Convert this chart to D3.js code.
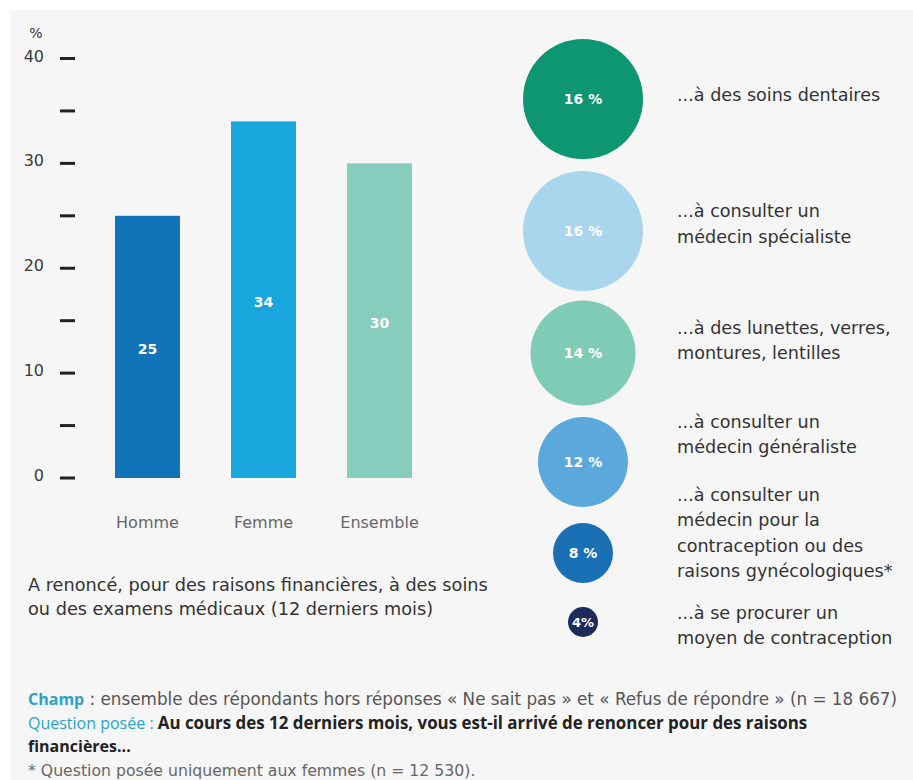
<!DOCTYPE html>
<html><head><meta charset="utf-8">
<script src="https://cdn.jsdelivr.net/npm/d3@7"></script>
<style>
html,body{margin:0;padding:0;background:#fff;}
svg{display:block;}
</style></head>
<body>
<svg id="c" width="913" height="780"></svg>
<script>
// ---- data ----
const categories = ["Homme", "Femme", "Ensemble"];
const values = [25, 34, 30];
const barColors = ["#1173b8", "#19a6dd", "#86cdbd"];
const yTicks = [0, 10, 20, 30, 40];
const yMinorTicks = [5, 15, 25, 35];
const caption = ["A renoncé, pour des raisons financières, à des soins", "ou des examens médicaux (12 derniers mois)"];

const reasons = [
  ["...à des soins dentaires"],
  ["...à consulter un", "médecin spécialiste"],
  ["...à des lunettes, verres,", "montures, lentilles"],
  ["...à consulter un", "médecin généraliste"],
  ["...à consulter un", "médecin pour la", "contraception ou des", "raisons gynécologiques*"],
  ["...à se procurer un", "moyen de contraception"]
];
const reasonValues = [16, 16, 14, 12, 8, 4];
const reasonColors = ["#0e9673", "#a9d5ed", "#80cbb6", "#5ba9dc", "#1a70b5", "#1c2a5c"];

const footChamp = ["Champ", " : ensemble des répondants hors réponses « Ne sait pas » et « Refus de répondre » (n = 18 667)"];
const footQuestion = ["Question posée", " : ", "Au cours des 12 derniers mois, vous est-il arrivé de renoncer pour des raisons"];
const footQuestion2 = "financières...";
const footNote = "* Question posée uniquement aux femmes (n = 12 530).";

// ---- drawing ----
const svg = d3.select("#c");
const font = "'DejaVu Sans', sans-serif";
svg.append("rect").attr("x", 10).attr("y", 10).attr("width", 903).attr("height", 770).attr("fill", "#f6f6f6");

// bar chart
const y = d3.scaleLinear().domain([0, 40]).range([478, 58.5]);
const x = d3.scaleBand().domain(categories).range([57, 470]).paddingInner(0.44).paddingOuter(0.5);

const gAxis = svg.append("g");
gAxis.selectAll("line.t").data(yTicks.concat(yMinorTicks)).join("line")
  .attr("x1", 60).attr("x2", 75).attr("y1", d => y(d)).attr("y2", d => y(d))
  .attr("stroke", "#222").attr("stroke-width", 3);
gAxis.selectAll("text.t").data(yTicks).join("text")
  .attr("x", 44).attr("y", d => y(d) + 3).attr("text-anchor", "end")
  .attr("font-family", font).attr("font-size", 16).attr("fill", "#3a3a3a")
  .text(d => d);
svg.append("text").attr("x", 36).attr("y", 38).attr("text-anchor", "middle")
  .attr("font-family", font).attr("font-size", 14).attr("fill", "#3a3a3a").text("%");

const bars = svg.append("g");
bars.selectAll("rect").data(values).join("rect")
  .attr("x", (d, i) => x(categories[i])).attr("width", x.bandwidth())
  .attr("y", d => y(d)).attr("height", d => y(0) - y(d))
  .attr("fill", (d, i) => barColors[i]);
bars.selectAll("text.v").data(values).join("text")
  .attr("x", (d, i) => x(categories[i]) + x.bandwidth() / 2)
  .attr("y", d => (y(d) + y(0)) / 2 + 7).attr("text-anchor", "middle")
  .attr("font-family", font).attr("font-size", 14).attr("font-weight", 700).attr("fill", "#fff")
  .text(d => d);
bars.selectAll("text.c").data(categories).join("text")
  .attr("x", d => x(d) + x.bandwidth() / 2).attr("y", 528).attr("text-anchor", "middle")
  .attr("font-family", font).attr("font-size", 16).attr("fill", "#666")
  .text(d => d);

svg.append("g").selectAll("text").data(caption).join("text")
  .attr("x", 28).attr("y", (d, i) => 591 + i * 24)
  .attr("font-family", font).attr("font-size", 17.7).attr("fill", "#333")
  .text(d => d);

// circles
const r = d3.scaleLinear().domain([0, 16]).range([0, 60]);
const cy = [99, 231, 353, 462, 553, 622];
const textY = [[95], [211, 237], [328, 353], [422, 447], [495, 520, 546, 571], [613, 638]];
const gc = svg.append("g");
gc.selectAll("circle").data(reasonValues).join("circle")
  .attr("cx", 583).attr("cy", (d, i) => cy[i]).attr("r", d => r(d))
  .attr("fill", (d, i) => reasonColors[i]);
gc.selectAll("text.p").data(reasonValues).join("text")
  .attr("x", 583).attr("y", (d, i) => cy[i] + 5).attr("text-anchor", "middle")
  .attr("font-family", font).attr("font-size", d => d <= 4 ? 13 : 14).attr("font-weight", 700).attr("fill", "#fff")
  .text(d => d <= 4 ? d + "%" : d + " %");
reasons.forEach((lines, i) => {
  gc.append("g").selectAll("text").data(lines).join("text")
    .attr("x", 677).attr("y", (d, j) => textY[i][j] + 6)
    .attr("font-family", font).attr("font-size", 17.6).attr("fill", "#333")
    .text(d => d);
});

// footer
const ff = "'DejaVu Sans', sans-serif";
const fo = "'Open Sans', sans-serif";
const blue = "#27a3c9";
let t = svg.append("text").attr("x", 28).attr("y", 705);
t.append("tspan").attr("font-family", fo).attr("font-size", 16).attr("fill", blue).attr("font-weight", 700).text(footChamp[0]);
t.append("tspan").attr("font-family", ff).attr("font-size", 16.8).attr("fill", "#555").text(footChamp[1]);
t = svg.append("text").attr("x", 28).attr("y", 729);
t.append("tspan").attr("font-family", fo).attr("font-size", 16).attr("fill", blue).text(footQuestion[0]);
t.append("tspan").attr("font-family", fo).attr("font-size", 16).attr("fill", blue).text(footQuestion[1]);
t.append("tspan").attr("font-family", fo).attr("font-size", 16.9).attr("fill", "#222").attr("font-weight", 700).text(footQuestion[2]);
svg.append("text").attr("x", 28).attr("y", 752).attr("font-family", fo).attr("font-size", 16)
  .attr("font-weight", 700).attr("fill", "#222").text(footQuestion2);
svg.append("text").attr("x", 28).attr("y", 776).attr("font-family", ff).attr("font-size", 15.7)
  .attr("fill", "#666").text(footNote);
</script>
</body></html>
